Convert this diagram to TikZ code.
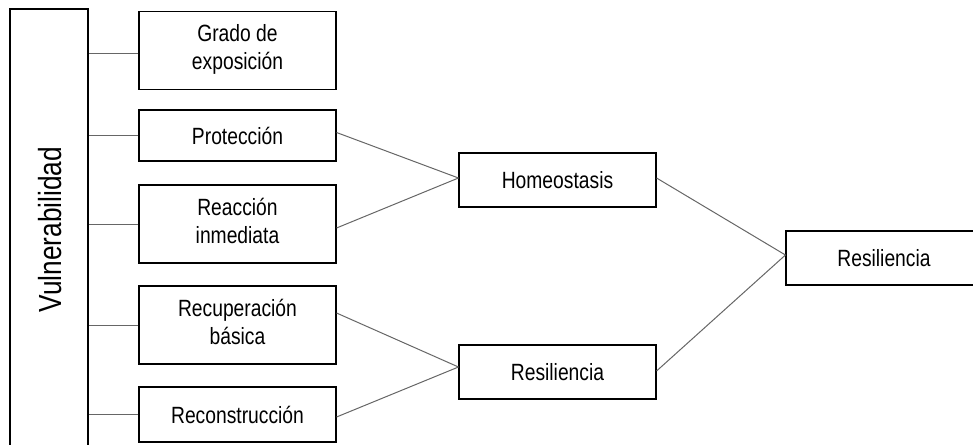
\documentclass[tikz,border=0pt]{standalone}
\usepackage{fontspec}
\setmainfont{Liberation Sans}
\usepackage{graphicx}
\usetikzlibrary{calc}
\newcommand{\nar}[1]{\scalebox{0.82}[1]{#1}}
\definecolor{linkgray}{HTML}{666666}
\begin{document}
\begin{tikzpicture}[x=1pt,y=-1pt,
  box/.style={draw=black,line width=1.1pt,rectangle,inner sep=0pt,
    minimum width=197pt,align=center,font=\fontsize{23.5}{28}\selectfont},
  link/.style={draw=linkgray,line width=1pt}]
\path[use as bounding box] (0,0) rectangle (973,444);
\begin{scope}
\clip (0,0) rectangle (973,444);
% left tall box
\node[draw=black,line width=1.1pt,rectangle,inner sep=0pt,minimum width=78pt,minimum height=441pt] (vul) at (49,229.5) {};
\node[rotate=90,font=\fontsize{32}{36}\selectfont,inner sep=0pt] (vultext) at (50.5,229.5) {\nar{Vulnerabilidad}};
% left column
\node[box,minimum height=78pt] (grado) at (237.5,50.3) {\nar{\begin{tabular}{@{}c@{}}Grado de\\exposición\end{tabular}}};
\node[box,minimum height=51pt] (prot) at (237.5,135.5) {\nar{Protección}};
\node[box,minimum height=78pt] (reac) at (237.5,224) {\nar{\begin{tabular}{@{}c@{}}Reacción\\inmediata\end{tabular}}};
\node[box,minimum height=78pt] (recu) at (237.5,325) {\nar{\begin{tabular}{@{}c@{}}Recuperación\\básica\end{tabular}}};
\node[box,minimum height=55pt] (recon) at (237.5,414.5) {\nar{Reconstrucción}};
% middle column
\node[box,minimum height=54pt] (homeo) at (557.5,180) {\nar{Homeostasis}};
\node[box,minimum height=54pt] (resmid) at (557.5,372) {\nar{Resiliencia}};
% right
\node[box,minimum width=196pt,minimum height=54pt] (resright) at (884,258) {\nar{Resiliencia}};
% connectors from Vulnerabilidad
\draw[link] ($(grado.west)+(0,3)$) coordinate (g1) -- (g1 -| vul.east);
\draw[link] (prot.west) -- (prot.west -| vul.east);
\draw[link] (reac.west) -- (reac.west -| vul.east);
\draw[link] (recu.west) -- (recu.west -| vul.east);
\draw[link] (recon.west) -- (recon.west -| vul.east);
% connectors to middle column
\draw[link] ($(prot.east)+(0,-3)$) -- ($(homeo.west)+(0,-2)$);
\draw[link] ($(reac.east)+(0,4)$) -- ($(homeo.west)+(0,-2)$);
\draw[link] ($(recu.east)+(0,-12)$) -- ($(resmid.west)+(0,-5)$);
\draw[link] ($(recon.east)+(0,2.5)$) -- ($(resmid.west)+(0,-5)$);
% connectors to right
\draw[link] ($(homeo.east)+(0,-2)$) -- ($(resright.west)+(0,-3)$);
\draw[link] ($(resmid.east)+(0,-1)$) -- ($(resright.west)+(0,-3)$);
\end{scope}
\end{tikzpicture}
\end{document}
